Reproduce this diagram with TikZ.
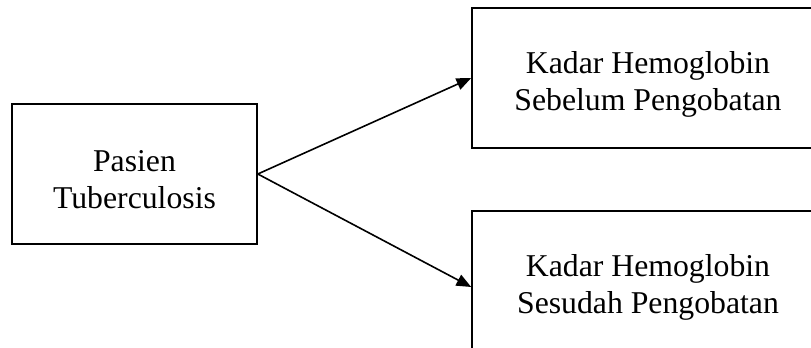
\documentclass[tikz,border=0pt]{standalone}
\usepackage{fontspec}
\setmainfont{Liberation Serif}
\usepackage{tikz}
\usetikzlibrary{arrows.meta, positioning}
\tikzset{>={Triangle[length=11pt,width=9pt]}}
\tikzset{kotak/.style={draw, line width=1.2pt, inner sep=0pt},
  teks/.style={align=center, inner sep=0pt, font=\fontsize{23.8}{27.75}\selectfont}}

\begin{document}
\begin{tikzpicture}[x=0.75pt, y=-0.75pt]
          \clip (0, 0) rectangle (811, 347);
          \node[kotak, minimum width=183.75pt, minimum height=105pt] (pasien) at (134.5, 174) {};
          \node[kotak, minimum width=264pt, minimum height=105pt] (sebelum) at (648, 78) {};
          \node[kotak, minimum width=264pt, minimum height=105pt] (sesudah) at (648, 281) {};
          \node[teks, below=4.5pt of pasien.center, anchor=center] (tpasien) {Pasien\\Tuberculosis};
          \node[teks, below=4.5pt of sebelum.center, anchor=center] (tsebelum) {Kadar Hemoglobin\\Sebelum Pengobatan};
          \node[teks, below=4.5pt of sesudah.center, anchor=center] (tsesudah) {Kadar Hemoglobin\\Sesudah Pengobatan};
          \draw[->, line width=1.2pt] (pasien.east) -- (sebelum.west);
          \draw[->, line width=1.2pt] (pasien.east) -- ([yshift=-4.5pt]sesudah.west);
        \end{tikzpicture}
\end{document}
